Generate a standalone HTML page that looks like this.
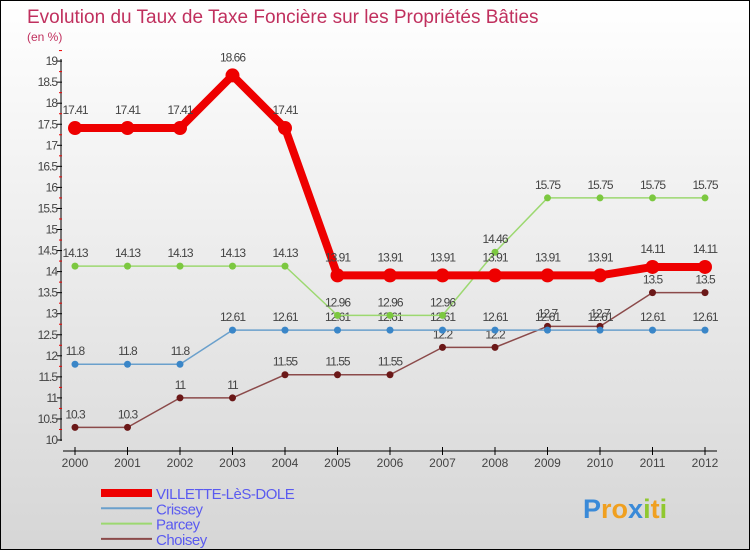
<!DOCTYPE html>
<html><head><meta charset="utf-8"><style>
body{margin:0}
#c{width:748px;height:548px;border:1px solid #000;background:linear-gradient(#fff,#d6d6d6);position:relative;overflow:hidden;font-family:"Liberation Sans",sans-serif}
</style></head><body>
<div id="c">
<svg id="s" width="748" height="548"></svg>
</div>
<script>
const years=[2000,2001,2002,2003,2004,2005,2006,2007,2008,2009,2010,2011,2012];
const villette=[17.41,17.41,17.41,18.66,17.41,13.91,13.91,13.91,13.91,13.91,13.91,14.11,14.11];
const crissey=[11.8,11.8,11.8,12.61,12.61,12.61,12.61,12.61,12.61,12.61,12.61,12.61,12.61];
const parcey=[14.13,14.13,14.13,14.13,14.13,12.96,12.96,12.96,14.46,15.75,15.75,15.75,15.75];
const choisey=[10.3,10.3,11,11,11.55,11.55,11.55,12.2,12.2,12.7,12.7,13.5,13.5];
const yTicks=[10,10.5,11,11.5,12,12.5,13,13.5,14,14.5,15,15.5,16,16.5,17,17.5,18,18.5,19];
const NS="http://www.w3.org/2000/svg";
const s=document.getElementById('s');
const X=i=>74+i*52.5, Y=v=>439-(v-10)*42.1;
function el(t,a,p){const e=document.createElementNS(NS,t);for(const k in a)e.setAttribute(k,a[k]);(p||s).appendChild(e);return e;}
function tx(x,y,str,a){const e=el('text',Object.assign({x:x,y:y},a));e.textContent=str;return e;}
let t=tx(26,22,'Evolution du Taux de Taxe Foncière sur les Propriétés Bâties',{fill:'#c0305e','font-size':19});

t=tx(26,40,'(en %)',{fill:'#c0305e','font-size':12});

let ax=el('line',{x1:60,y1:58,x2:60,y2:440,stroke:'#000'});

yTicks.forEach(v=>{el('line',{x1:56,x2:61,y1:Y(v),y2:Y(v),stroke:'#000'});
 el('line',{x1:58,x2:61,y1:Y(v+0.25),y2:Y(v+0.25),stroke:'#e00'});
 const l=tx(56,Y(v)+4,String(v),{'text-anchor':'end','font-size':12,fill:'#444','letter-spacing':'-1'});
 });
ax=el('line',{x1:62,y1:450,x2:716,y2:450,stroke:'#000'});

years.forEach((y,i)=>{el('line',{x1:X(i),x2:X(i),y1:446,y2:454,stroke:'#000'});
 const l=tx(X(i),466,String(y),{'text-anchor':'middle','font-size':12,fill:'#444'});
 });
function series(d,color,w,r,name,dot,lab){
 const g=el('g',{});
 el('polyline',{points:d.map((v,i)=>X(i)+','+Y(v)).join(' '),fill:'none',stroke:color,'stroke-width':w,'stroke-linejoin':'round'},g);
 d.forEach((v,i)=>{el('circle',{cx:X(i),cy:Y(v),r:r,fill:dot},g);
  tx(X(i),Y(v)-(w>4?14:9),String(v),{'text-anchor':'middle','font-size':12,fill:'#444','letter-spacing':'-1'},g);});
}
series(choisey,'#8b4a4a',1.5,3.5,'series-choisey','#6b1818');
series(crissey,'#6aa0cc',1.5,3.5,'series-crissey','#3a86c8');
series(parcey,'#9cd870',1.5,3.5,'series-parcey','#7cc840');
series(villette,'#ee0000',8,7,'series-villette','#ee0000');
const leg=[['VILLETTE-LèS-DOLE','#ee0000',8],['Crissey','#6aa0cc',2],['Parcey','#9cd870',2],['Choisey','#8b4a4a',2]];
leg.forEach((l,i)=>{const g=el('g',{});
 const y=492+i*15.3;el('line',{x1:100,x2:151,y1:y,y2:y,stroke:l[1],'stroke-width':l[2]},g);
 tx(155,y+6,l[0],{'font-size':15,fill:'#5a5af0','letter-spacing':'-0.5'},g);});
const lg=el('g',{});
const lt=tx(582,517,'',{'font-size':27,'font-weight':'bold'},lg);
[['P','#3a8ad8'],['r','#f0a020'],['o','#f0a020'],['x','#3a8ad8'],['i','#90c830'],['t','#f0a020'],['i','#90c830']].forEach(c=>{const sp=document.createElementNS(NS,'tspan');sp.setAttribute('fill',c[1]);sp.textContent=c[0];lt.appendChild(sp);});
</script>
</body></html>
